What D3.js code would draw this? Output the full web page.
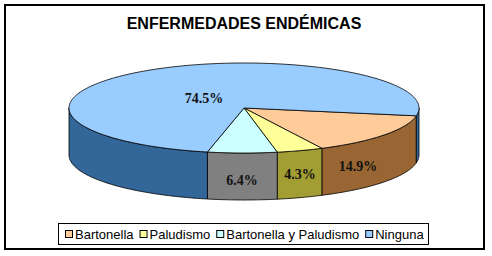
<!DOCTYPE html>
<html>
<head>
<meta charset="utf-8">
<script src="https://cdn.jsdelivr.net/npm/d3@7"></script>
<style>
  html, body { margin: 0; padding: 0; background: #fff; }
  svg { display: block; }
</style>
</head>
<body>
<svg id="chart" width="492" height="256"></svg>
<script>
// data
const categories = ['Bartonella', 'Paludismo', 'Bartonella y Paludismo', 'Ninguna'];
const values     = [14.9, 4.3, 6.4, 74.5];
const labels     = ['14.9%', '4.3%', '6.4%', '74.5%'];
const topColors  = ['#FFCC99', '#FFFF99', '#CCFFFF', '#99CCFF'];
const sideColors = ['#996633', '#A39E33', '#808080', '#336699'];

const W = 492, H = 256;
const CX = 244, CY = 108, RX = 175, RY = 45, DEPTH = 47;
const START = 100 * Math.PI / 180;          // first slice starts a bit past 3 o'clock

const svg = d3.select('#chart');

// outer frame
svg.append('rect').attr('x', 5).attr('y', 5).attr('width', 479).attr('height', 244)
  .attr('fill', '#fff').attr('stroke', '#000').attr('stroke-width', 2);

svg.append('text').attr('x', 244).attr('y', 29).attr('text-anchor', 'middle')
  .style('font', 'bold 16px Arial, "Liberation Sans", sans-serif')
  .text('ENFERMEDADES ENDÉMICAS');

const pie = d3.pie().sort(null).startAngle(START).endAngle(START + 2 * Math.PI);
const arcs = pie(values);

// angle a measured clockwise from 12 o'clock, dy pushes down (side wall)
const pt = (a, dy = 0) => [CX + RX * Math.sin(a), CY - RY * Math.cos(a) + dy];
const sample = (a0, a1, dy) => {
  const n = Math.max(2, Math.ceil(Math.abs(a1 - a0) / 0.02));
  return d3.range(n + 1).map(i => pt(a0 + (a1 - a0) * i / n, dy));
};
const line = d3.line();

// side walls: only the front half (90°..270°, plus the wrap 450°..630°)
const walls = svg.append('g');
const FRONT = [[Math.PI / 2, 1.5 * Math.PI], [2.5 * Math.PI, 3.5 * Math.PI]];
arcs.forEach((d, i) => {
  FRONT.forEach(([f0, f1]) => {
    const a0 = Math.max(d.startAngle, f0), a1 = Math.min(d.endAngle, f1);
    if (a1 <= a0) return;
    const pts = sample(a0, a1, 0).concat(sample(a1, a0, DEPTH));
    walls.append('path').attr('d', line(pts) + 'Z')
      .attr('fill', sideColors[i]).attr('stroke', '#000').attr('stroke-width', 0.8)
      .attr('stroke-linejoin', 'round');
  });
});

// top faces
const tops = svg.append('g');
arcs.forEach((d, i) => {
  const pts = [[CX, CY]].concat(sample(d.startAngle, d.endAngle, 0));
  tops.append('path').attr('d', line(pts) + 'Z')
    .attr('fill', topColors[i]).attr('stroke', '#000').attr('stroke-width', 0.8)
    .attr('stroke-linejoin', 'round');
});

// data labels
const labelPos = [[358, 171], [300, 179], [242, 185], [204, 103]];
svg.append('g').selectAll('text').data(labels).join('text')
  .attr('x', (d, i) => labelPos[i][0]).attr('y', (d, i) => labelPos[i][1])
  .attr('text-anchor', 'middle')
  .style('font', 'bold 14px "Times New Roman", "Liberation Serif", serif')
  .attr('fill', '#111')
  .text(d => d);

// legend
const leg = svg.append('g');
leg.append('rect').attr('x', 58.5).attr('y', 223.5).attr('width', 370).attr('height', 21)
  .attr('fill', '#fff').attr('stroke', '#000').attr('stroke-width', 1);
let lx = 65;
categories.forEach((c, i) => {
  leg.append('rect').attr('x', lx + 0.5).attr('y', 230.5).attr('width', 7).attr('height', 7)
    .attr('fill', topColors[i]).attr('stroke', '#000').attr('stroke-width', 1);
  const t = leg.append('text').attr('x', lx + 10).attr('y', 238.5)
    .style('font', '13px Arial, "Liberation Sans", sans-serif').text(c);
  lx += 10 + t.node().getComputedTextLength() + 6;
});
</script>
</body>
</html>
